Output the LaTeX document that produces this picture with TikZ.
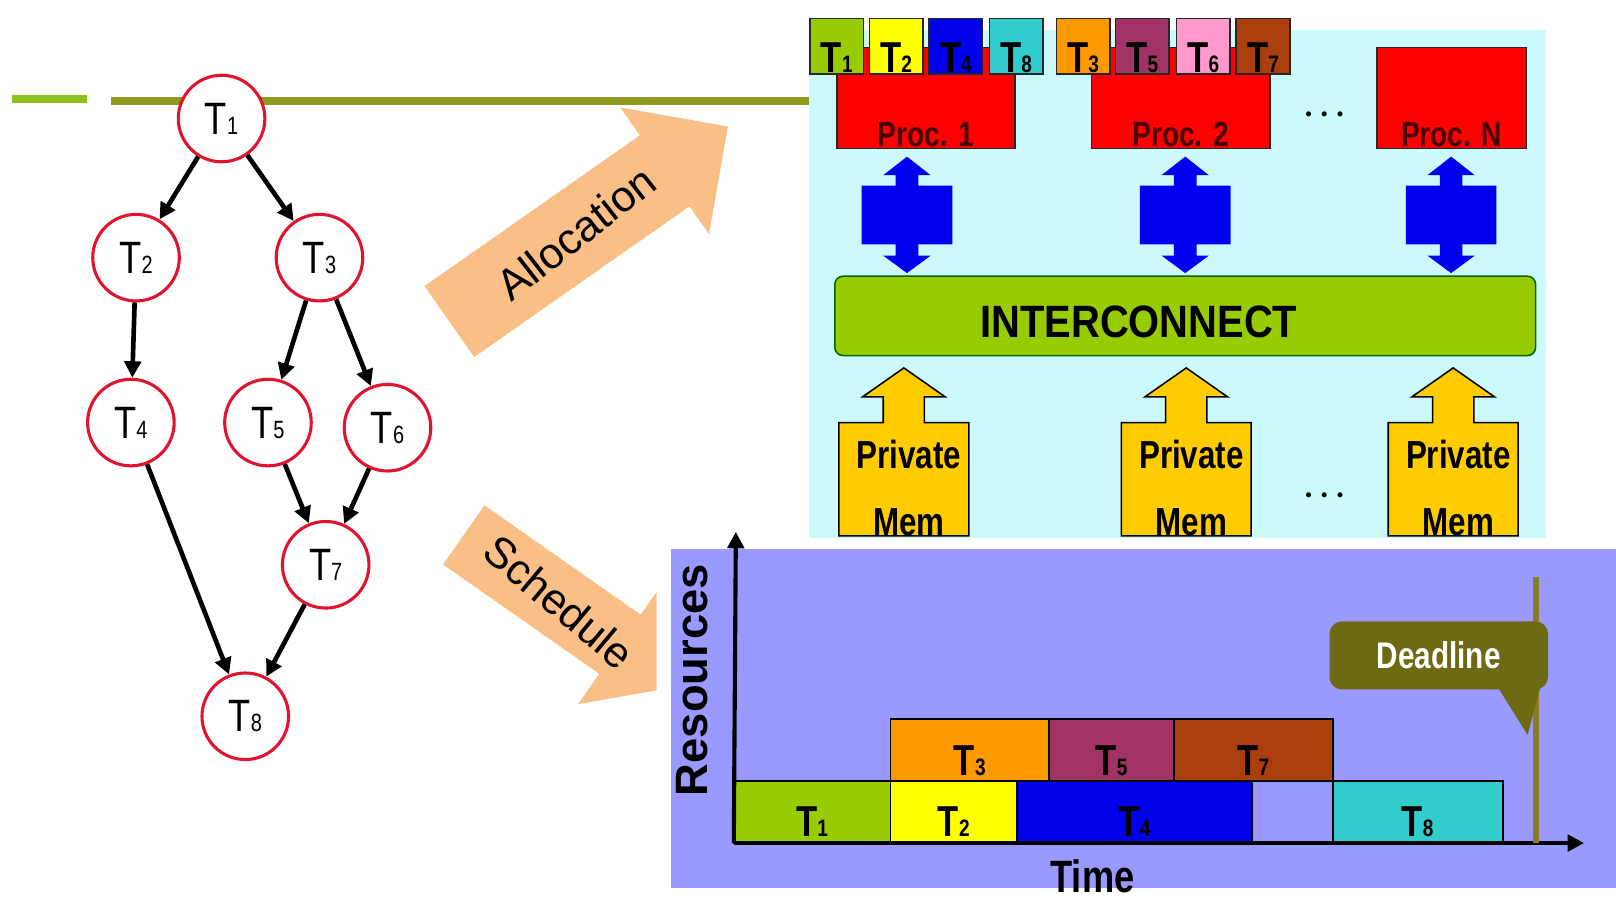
\documentclass[tikz,border=0pt]{standalone}
\usepackage{fontspec}
\setmainfont{Liberation Sans}
\newfontfamily\narrowsf{Liberation Sans}[FakeStretch=0.8]
\usetikzlibrary{arrows.meta,calc}

\definecolor{taskred}{RGB}{225,20,45}
\definecolor{barlime}{RGB}{140,194,31}
\definecolor{olivebar}{RGB}{142,155,30}
\definecolor{peach}{RGB}{250,190,135}
\definecolor{archcyan}{RGB}{204,250,252}
\definecolor{procred}{RGB}{255,0,0}
\definecolor{proctext}{RGB}{70,0,0}
\definecolor{busblue}{RGB}{0,0,240}
\definecolor{memgold}{RGB}{255,204,0}
\definecolor{ganttbg}{RGB}{153,153,255}
\definecolor{tlime}{RGB}{153,204,0}
\definecolor{tyellow}{RGB}{255,255,0}
\definecolor{tblue}{RGB}{0,0,235}
\definecolor{tteal}{RGB}{51,204,204}
\definecolor{torange}{RGB}{255,153,0}
\definecolor{tplum}{RGB}{160,50,100}
\definecolor{tpink}{RGB}{255,153,204}
\definecolor{tbrown}{RGB}{170,62,12}
\definecolor{dlfill}{RGB}{110,106,20}
\definecolor{dlline}{RGB}{135,125,35}

\newcommand\tn[1]{T\scalebox{0.55}{#1}}

\tikzset{
  task/.style={circle, draw=taskred, line width=3pt, fill=white, minimum size=84pt,
    inner sep=0pt, font=\narrowsf\fontsize{44}{44}\selectfont},
  dep/.style={line width=4.5pt, -{Triangle[length=16pt,width=16pt]}},
  slot/.style={draw=black!85, line width=1.5pt, minimum width=52pt, minimum height=54pt,
    inner sep=0pt, text height=50pt, text depth=0pt,
    font=\narrowsf\bfseries\fontsize{42}{42}\selectfont},
  procbox/.style={draw=black!85, line width=1.5pt, fill=procred, minimum height=98pt,
    inner sep=0pt, text height=94pt, text depth=0pt, text=proctext,
    font=\narrowsf\bfseries\fontsize{34}{34}\selectfont},
  flowlbl/.style={font=\fontsize{42}{42}\selectfont},
  memlbl/.style={font=\narrowsf\bfseries\fontsize{38}{38}\selectfont},
  bar/.style={draw=black, line width=1.8pt, minimum height=60pt, inner sep=0pt,
    text height=48pt, text depth=0pt, font=\narrowsf\bfseries\fontsize{42}{42}\selectfont},
  axis/.style={line width=4pt, -{Triangle[length=16pt,width=16pt]}},
}

\begin{document}
\begin{tikzpicture}[x=1pt, y=-1pt]
\useasboundingbox (0,0) rectangle (1568,873);
\fill[white] (0,0) rectangle (1568,873);

% panels
\fill[archcyan] (785,29) rectangle (1500,522);
\fill[ganttbg] (651,533) rectangle (1568,862);

% allocation and schedule arrows
\begin{scope}[shift={(436,312)}, rotate=35]
  \fill[peach] (0,-42) -- (255,-42) -- (255,-75) -- (330,0) -- (255,75) -- (255,42) -- (0,42) -- cycle;
  \node (alloc) [flowlbl, rotate=38] at (150,0) {Allocation};
\end{scope}
\begin{scope}
  \clip (0,0) rectangle (637,873);
  \begin{scope}[shift={(450,519)}, rotate=-35]
    \fill[peach] (0,-35) -- (185,-35) -- (185,-71) -- (256,0) -- (185,71) -- (185,35) -- (0,35) -- cycle;
    \node (sched) [flowlbl, rotate=-40] at (113,0) {Schedule};
  \end{scope}
\end{scope}

% title rules
\draw[line width=7pt, barlime] (12,96) -- (84,96);
\draw[line width=7pt, olivebar] (108,98) -- (785,98);

% task graph
\node (t1) [task] at (215,115) {\tn{1}};
\node (t2) [task] at (132,250) {\tn{2}};
\node (t3) [task] at (310,250) {\tn{3}};
\node (t4) [task] at (127,410) {\tn{4}};
\node (t5) [task] at (260,410) {\tn{5}};
\node (t6) [task] at (376,415) {\tn{6}};
\node (t7) [task] at (316,548) {\tn{7}};
\node (t8) [task] at (238,695) {\tn{8}};

\draw[dep] (t1) -- (t2);
\draw[dep] (t1) -- (t3);
\draw[dep] (t2) -- (t4);
\draw[dep] (t3) -- (t5);
\draw[dep] (t3) -- (t6);
\draw[dep] (t4) -- (t8);
\draw[dep] (t5) -- (t7);
\draw[dep] (t6) -- (t7);
\draw[dep] (t7) -- (t8);

% processors with their allocated tasks
\node (proc1) [procbox, minimum width=173pt] at (898.5,95) {Proc. 1};
\node (proc2) [procbox, minimum width=173pt] at (1145.5,95) {Proc. 2};
\node (procN) [procbox, minimum width=145pt] at (1408.5,95) {Proc. N};
\foreach \x/\c/\n in {812/tlime/1, 869.5/tyellow/2, 927.5/tblue/4, 986/tteal/8,
                      1051/torange/3, 1108.5/tplum/5, 1167.5/tpink/6, 1225.5/tbrown/7}
  \node (a\n) [slot, fill=\c] at (\x,45) {\tn{\n}};
\node (dots1) [font=\fontsize{18}{18}\selectfont] at (1285,113) {\textbullet\hspace{9pt}\textbullet\hspace{9pt}\textbullet};

% links to the interconnect
\foreach \x in {880,1150,1408}
  \fill[busblue] (\x,152) -- (\x+23,170) -- (\x+11,170) -- (\x+11,180) -- (\x+44,180)
    -- (\x+44,237) -- (\x+11,237) -- (\x+11,248) -- (\x+23,248) -- (\x,265)
    -- (\x-23,248) -- (\x-11,248) -- (\x-11,237) -- (\x-44,237) -- (\x-44,180)
    -- (\x-11,180) -- (\x-11,170) -- (\x-23,170) -- cycle;

\node (bus) [draw=black!60!green, line width=1.5pt, fill=tlime, rounded corners=8pt,
  minimum width=680pt, minimum height=77pt] at (1150,306.5) {};
\node (busl) [font=\bfseries\fontsize{44}{44}\selectfont, xscale=0.88] at (1105,312) {INTERCONNECT};

% private memories
\foreach \x/\n in {877/1,1151/2,1410/3} {
  \draw[fill=memgold, line width=1.5pt] (\x-63,520) -- (\x-63,410) -- (\x-20,410) -- (\x-20,385)
    -- (\x-40,385) -- (\x,357) -- (\x+40,385) -- (\x+20,385) -- (\x+20,410) -- (\x+63,410)
    -- (\x+63,520) -- cycle;
  \node (mem\n) [memlbl] at (\x+5,441) {Private};
  \node (memb\n) [memlbl, anchor=base] at (\x+5,520) {Mem};
}
\node (dots2) [font=\fontsize{18}{18}\selectfont] at (1285,482) {\textbullet\hspace{9pt}\textbullet\hspace{9pt}\textbullet};

% schedule chart
\foreach \a/\b/\c/\n in {712/864/tlime/1, 864/987/tyellow/2, 987/1215/tblue/4, 1293/1458/tteal/8}
  \node (s\n) [bar, fill=\c, minimum width={\b-\a}] at ({(\a+\b)/2},788) {\tn{\n}};
\foreach \a/\b/\c/\n in {864/1018/torange/3, 1018/1139/tplum/5, 1139/1293/tbrown/7}
  \node (s\n) [bar, fill=\c, minimum width={\b-\a}] at ({(\a+\b)/2},728) {\tn{\n}};
\draw[line width=1.8pt] (1215,758) -- (1293,758);

\coordinate (origin) at (712,818);
\coordinate (ytop) at (714,516);
\coordinate (xend) at (1537,818);
\draw[axis] (origin) -- (ytop);
\draw[axis] (origin) -- (xend);

\node (res) [font=\bfseries\fontsize{44}{44}\selectfont, rotate=90] at (672,660) {Resources};
\node (time) [font=\narrowsf\bfseries\fontsize{44}{44}\selectfont] at (1060,850) {Time};

% deadline marker
\draw[line width=6pt, dlline] (1490,560) -- (1490,818);
\node (dl) [fill=dlfill, rounded corners=12pt, minimum width=212pt, minimum height=66pt,
  text=white, font=\narrowsf\bfseries\fontsize{36}{36}\selectfont] at (1396,636) {Deadline};
\fill[dlfill] ($(dl.south east)+(-48,-1)$) -- ($(dl.south east)+(-8,-1)$) -- ($(dl.south east)+(-20,44)$) -- cycle;
\end{tikzpicture}
\end{document}
